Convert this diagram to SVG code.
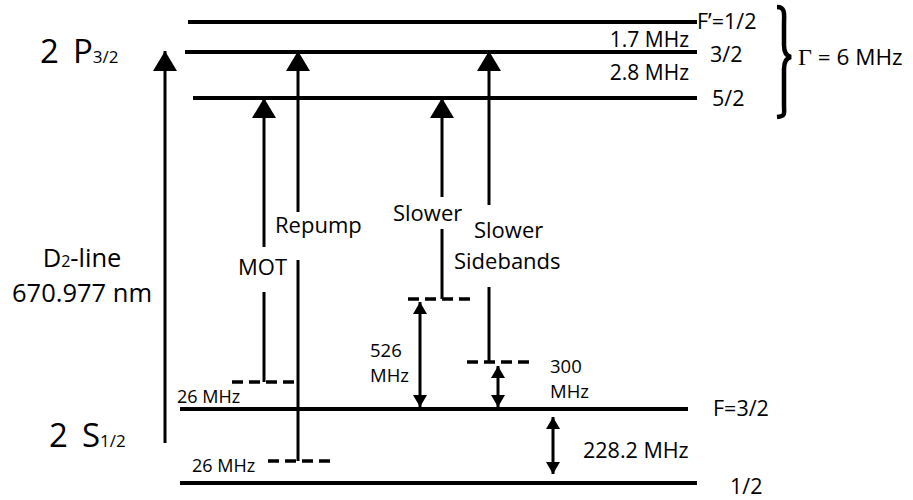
<svg xmlns="http://www.w3.org/2000/svg" width="913" height="500" viewBox="0 0 913 500">
<style>
  text { font-family: "Open Sans", "Noto Sans", "Liberation Sans", sans-serif; fill: #000; font-weight: 500; }
  .lvl { stroke: #000; stroke-width: 4; fill: none; }
  .ln { stroke: #000; stroke-width: 3; fill: none; }
  .dash { stroke: #000; stroke-width: 3.5; stroke-dasharray: 11 6; fill: none; }
  .big { font-size: 33px; }
  .mid { font-size: 25.5px; }
  .lab { font-size: 22px; }
  .sm { font-size: 18.5px; }
  .xs { font-size: 18px; }
  .hf { font-size: 21.5px; }
</style>
<defs>
  <marker id="bigHead" markerUnits="userSpaceOnUse" viewBox="0 0 20 24" markerWidth="20" markerHeight="24" refX="20" refY="12" orient="auto">
    <path d="M0,0 L20,12 L0,24 Z" fill="#000"/>
  </marker>
  <marker id="smHead" markerUnits="userSpaceOnUse" viewBox="0 0 12 14" markerWidth="12" markerHeight="14" refX="12" refY="7" orient="auto-start-reverse">
    <path d="M0,0 L12,7 L0,14 Z" fill="#000"/>
  </marker>
</defs>
<rect width="913" height="500" fill="#fff"/>

<!-- levels -->
<g id="level-P-F12">
  <line class="lvl" x1="188" y1="22" x2="697" y2="22"/>
  <text class="hf" x="697" y="29">F’=1/2</text>
</g>
<g id="level-P-F32">
  <line class="lvl" x1="185" y1="52" x2="697" y2="52"/>
  <text class="hf" x="710" y="62">3/2</text>
</g>
<g id="level-P-F52">
  <line class="lvl" x1="193" y1="98" x2="697" y2="98"/>
  <text class="hf" x="712" y="106">5/2</text>
</g>
<g id="level-S-F32">
  <line class="lvl" x1="180" y1="409" x2="688" y2="409"/>
  <text class="hf" x="713" y="416">F=3/2</text>
</g>
<g id="level-S-F12">
  <line class="lvl" x1="180" y1="483" x2="697" y2="483"/>
  <text class="hf" x="730" y="494">1/2</text>
</g>

<g id="label-P">
  <text class="big" x="40" y="63">2<tspan x="73">P</tspan><tspan font-size="17">3/2</tspan></text>
</g>
<g id="label-S">
  <text class="big" x="49" y="447">2<tspan x="82">S</tspan><tspan font-size="17">1/2</tspan></text>
</g>
<g id="label-D2">
  <text class="mid" x="82" y="267" text-anchor="middle">D<tspan font-size="16">2</tspan>-line</text>
  <text class="mid" x="82" y="302" text-anchor="middle">670.977 nm</text>
</g>
<g id="label-hfs">
  <text font-size="21" x="689" y="47" text-anchor="end">1.7 MHz</text>
  <text font-size="21" x="689" y="80" text-anchor="end">2.8 MHz</text>
</g>
<g id="label-gamma">
  <path d="M777,7 C786,7 784,15 784,25 L784,45 C784,52 786,56 791,57 C786,58 784,62 784,69 L784,104 C784,114 786,116 777,117" fill="none" stroke="#000" stroke-width="4.5"/>
  <text font-size="22.5" x="798" y="65"><tspan font-family="Liberation Serif, serif" font-weight="400" font-size="24">Γ</tspan> = 6 MHz</text>
</g>
<g id="label-MOT"><text class="lab" x="262.5" y="275" text-anchor="middle">MOT</text></g>
<g id="label-repump"><text class="lab" x="275" y="233">Repump</text></g>
<g id="label-slower"><text class="lab" x="393" y="221">Slower</text></g>
<g id="label-sidebands">
  <text class="lab" x="474" y="238">Slower</text>
  <text class="lab" x="454" y="269">Sidebands</text>
</g>
<g id="label-526">
  <text class="sm" x="370" y="357">526</text>
  <text class="sm" x="370" y="382">MHz</text>
</g>
<g id="label-300">
  <text class="sm" x="550" y="373">300</text>
  <text class="sm" x="550" y="398">MHz</text>
</g>
<g id="label-228">
  <text class="hf" x="583" y="458">228.2 MHz</text>
</g>
<g id="label-26a"><text class="xs" x="177" y="403">26 MHz</text></g>
<g id="label-26b"><text class="xs" x="192" y="472">26 MHz</text></g>

<g id="detunings">
  <line class="dash" x1="232" y1="382" x2="294" y2="382"/>
  <line class="dash" x1="268" y1="461" x2="330" y2="461"/>
  <line class="dash" x1="408" y1="299" x2="470" y2="299"/>
  <line class="dash" x1="467" y1="362" x2="529" y2="362"/>
</g>

<g id="connectors">
  <line class="ln" x1="165" y1="443" x2="165" y2="51" marker-end="url(#bigHead)"/>
  <line class="ln" x1="264" y1="247" x2="264" y2="98" marker-end="url(#bigHead)"/>
  <line class="ln" x1="264" y1="292" x2="264" y2="382"/>
  <line class="ln" x1="298" y1="212" x2="298" y2="51" marker-end="url(#bigHead)"/>
  <line class="ln" x1="298" y1="260" x2="298" y2="461"/>
  <line class="ln" x1="442" y1="197" x2="442" y2="98" marker-end="url(#bigHead)"/>
  <line class="ln" x1="442" y1="229" x2="442" y2="299"/>
  <line class="ln" x1="489" y1="205" x2="489" y2="51" marker-end="url(#bigHead)"/>
  <line class="ln" x1="489" y1="287" x2="489" y2="362"/>
  <line class="ln" x1="420" y1="302" x2="420" y2="407" marker-start="url(#smHead)" marker-end="url(#smHead)"/>
  <line class="ln" x1="498" y1="366" x2="498" y2="407" marker-start="url(#smHead)" marker-end="url(#smHead)"/>
  <line class="ln" x1="553" y1="417" x2="553" y2="474" marker-start="url(#smHead)" marker-end="url(#smHead)"/>
</g>
</svg>
